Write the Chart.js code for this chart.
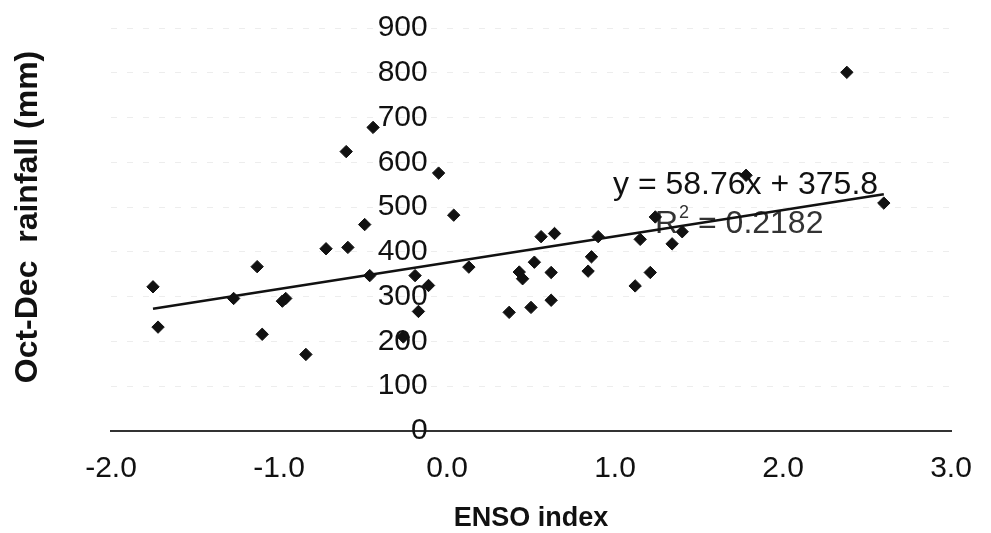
<!DOCTYPE html>
<html>
<head>
<meta charset="utf-8">
<script src="https://cdn.jsdelivr.net/npm/chart.js@4.4.1/dist/chart.umd.min.js"></script>
<style>
html,body{margin:0;padding:0;background:#fff;}
#wrap{width:991px;height:533px;position:relative;}
</style>
</head>
<body>
<div id="wrap"><canvas id="c" width="991" height="533"></canvas></div>
<script>
// ---- data ----
const ensoIndex = [-1.75, -1.72, -1.27, -1.13, -1.10, -0.98, -0.96, -0.84, -0.72, -0.59,
  -0.49, -0.46, -0.44, -0.60, -0.26, -0.19, -0.17, -0.11, -0.05, 0.04,
  0.13, 0.37, 0.43, 0.45, 0.50, 0.52, 0.56, 0.62, 0.62, 0.64,
  0.84, 0.86, 0.90, 1.12, 1.15, 1.21, 1.24, 1.34, 1.40, 1.78,
  2.38, 2.60];
const rainfall = [322, 232, 296, 367, 216, 290, 296, 171, 407, 410,
  461, 347, 678, 624, 210, 347, 267, 325, 576, 482,
  366, 265, 355, 340, 276, 377, 434, 354, 292, 441,
  357, 389, 434, 324, 428, 354, 478, 418, 445, 571,
  801, 509];
const xTickValues = [-2, -1, 0, 1, 2, 3];
const yTickValues = [0, 100, 200, 300, 400, 500, 600, 700, 800, 900];
const xAxisTitle = 'ENSO index';
const yAxisTitle = 'Oct-Dec  rainfall (mm)';
const trendSlope = 58.76;
const trendIntercept = 375.8;
const equationText = 'y = 58.76x + 375.8';
const rSquaredText = '0.2182';

// ---- build chart ----
const FONT = '"Liberation Sans", Arial, Helvetica, sans-serif';
const points = ensoIndex.map((x, i) => ({x: x, y: rainfall[i]}));
const xMin = Math.min(...ensoIndex), xMax = Math.max(...ensoIndex);
const trend = [xMin, xMax].map(x => ({x: x, y: trendSlope * x + trendIntercept}));

const textPlugin = {
  id: 'texts',
  beforeDatasetsDraw(chart) {
    const ctx = chart.ctx;
    ctx.save();
    ctx.fillStyle = '#111';
    ctx.textAlign = 'left';
    ctx.textBaseline = 'alphabetic';
    ctx.font = '32px ' + FONT;
    ctx.fillText(equationText, 613, 194);
    let x = 655, y = 233;
    ctx.fillStyle = '#333';
    ctx.fillText('R', x, y);
    x += ctx.measureText('R').width;
    ctx.font = '18px ' + FONT;
    ctx.fillText('2', x + 1, y - 15);
    x += ctx.measureText('2').width + 1;
    ctx.font = '32px ' + FONT;
    ctx.fillText(' = ' + rSquaredText, x, y);
    ctx.restore();
  },
  afterDraw(chart) {
    const ctx = chart.ctx;
    ctx.save();
    ctx.translate(28, 217);
    ctx.rotate(-Math.PI / 2);
    ctx.font = 'bold 32px ' + FONT;
    ctx.fillStyle = '#111';
    ctx.textAlign = 'center';
    ctx.textBaseline = 'middle';
    ctx.fillText(yAxisTitle, 0, 0);
    ctx.restore();
  }
};

new Chart(document.getElementById('c'), {
  type: 'scatter',
  data: {
    datasets: [
      {
        label: 'rainfall',
        data: points,
        pointStyle: 'rectRot',
        pointRadius: 6.2,
        pointHoverRadius: 6.2,
        backgroundColor: '#111',
        borderColor: '#111',
        borderWidth: 1
      },
      {
        type: 'line',
        label: 'trend',
        data: trend,
        borderColor: '#111',
        borderWidth: 2.6,
        pointRadius: 0,
        fill: false,
        tension: 0
      }
    ]
  },
  options: {
    responsive: false,
    animation: false,
    devicePixelRatio: 1,
    layout: {padding: {left: 111, right: 40, top: 28, bottom: 1}},
    plugins: {legend: {display: false}, tooltip: {enabled: false}},
    scales: {
      x: {
        type: 'linear',
        position: 'bottom',
        min: -2, max: 3,
        afterBuildTicks: s => { s.ticks = xTickValues.map(v => ({value: v})); },
        afterFit: s => { s.paddingLeft = 0; s.paddingRight = 0; },
        ticks: {
          callback: v => Number(v).toFixed(1),
          font: {family: FONT, size: 30},
          color: '#111',
          padding: 12,
          maxRotation: 0,
          autoSkip: false
        },
        grid: {display: false},
        border: {display: true, color: '#333', width: 2},
        title: {
          display: true,
          text: xAxisTitle,
          font: {family: FONT, size: 27, weight: 'bold', lineHeight: 1},
          color: '#111',
          padding: {top: 6, bottom: 0}
        }
      },
      y: {
        type: 'linear',
        position: {x: -0.115},
        min: 0, max: 900,
        afterBuildTicks: s => { s.ticks = yTickValues.map(v => ({value: v})); },
        afterFit: s => { s.width = 0; s.paddingTop = 0; s.paddingBottom = 0; },
        ticks: {
          font: {family: FONT, size: 30},
          color: '#111',
          padding: 0,
          autoSkip: false
        },
        grid: {display: true, drawTicks: false, color: 'rgba(0,0,0,0.07)'},
        border: {display: false, dash: [6, 10]}
      }
    }
  },
  plugins: [textPlugin]
});
</script>
</body>
</html>
